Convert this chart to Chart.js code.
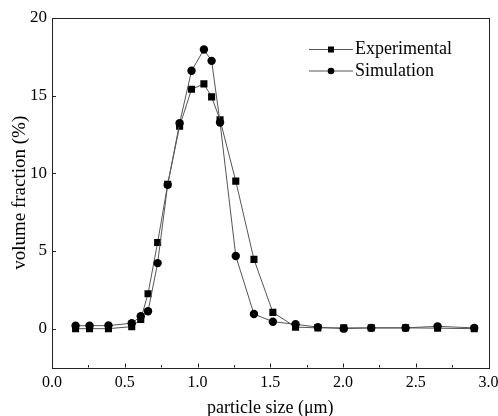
<!DOCTYPE html>
<html>
<head>
<meta charset="utf-8">
<script src="https://cdn.jsdelivr.net/npm/chart.js@4/dist/chart.umd.min.js"></script>
<style>
  html, body { margin: 0; padding: 0; background: #fff; }
  #wrap { width: 498px; height: 416px; position: relative; }
</style>
</head>
<body>
<div id="wrap"><canvas id="c"></canvas></div>
<script>
// Particle size bins (µm)
const sizes = [0.162, 0.258, 0.388, 0.548, 0.610, 0.660, 0.726, 0.795, 0.877, 0.959, 1.044, 1.097,
               1.155, 1.263, 1.388, 1.518, 1.674, 1.827, 2.005, 2.194, 2.430, 2.650, 2.902];
// Volume fraction (%) per bin
const experimental = [0.0, 0.0, 0.0, 0.13, 0.6, 2.25, 5.55, 9.3, 13.03, 15.41, 15.76, 14.92,
                      13.44, 9.5, 4.46, 1.05, 0.1, 0.05, 0.05, 0.05, 0.05, 0.03, 0.0];
const simulation = [0.19, 0.19, 0.2, 0.35, 0.8, 1.12, 4.22, 9.26, 13.23, 16.6, 17.97, 17.24,
                    13.27, 4.68, 0.94, 0.45, 0.28, 0.1, 0.0, 0.05, 0.05, 0.15, 0.05];
const seriesNames = ['Experimental', 'Simulation'];
const xTicks = [0.0, 0.5, 1.0, 1.5, 2.0, 2.5, 3.0];
const xMinorTicks = [0.25, 0.75, 1.25, 1.75, 2.25, 2.75];
const yTicks = [0, 5, 10, 15, 20];

const FONT = "'Liberation Serif', 'Times New Roman', serif";

const pts = vals => sizes.map((x, i) => ({ x: x, y: vals[i] }));

// Frame, inward ticks and the line+marker legend
const decorations = {
  id: 'decorations',
  afterDraw(chart) {
    const ctx = chart.ctx;
    const a = chart.chartArea;
    const xs = chart.scales.x, ys = chart.scales.y;
    ctx.save();
    ctx.strokeStyle = '#222';
    ctx.lineWidth = 1;
    ctx.strokeRect(Math.round(a.left) + 0.5, Math.round(a.top) + 0.5,
                   Math.round(a.right - a.left), Math.round(a.bottom - a.top));
    ctx.beginPath();
    xTicks.forEach(v => {
      const p = Math.round(xs.getPixelForValue(v)) + 0.5;
      ctx.moveTo(p, a.bottom); ctx.lineTo(p, a.bottom - 4);
    });
    xMinorTicks.forEach(v => {
      const p = Math.round(xs.getPixelForValue(v)) + 0.5;
      ctx.moveTo(p, a.bottom); ctx.lineTo(p, a.bottom - 2.5);
    });
    yTicks.forEach(v => {
      const p = Math.round(ys.getPixelForValue(v)) + 0.5;
      ctx.moveTo(a.left, p); ctx.lineTo(a.left + 4, p);
    });
    ctx.stroke();

    // legend
    const lx0 = 309, lx1 = 353, rows = [49.5, 71];
    chart.data.datasets.forEach((ds, i) => {
      const y = rows[i];
      ctx.strokeStyle = ds.borderColor;
      ctx.lineWidth = 1;
      ctx.beginPath();
      ctx.moveTo(lx0, y); ctx.lineTo(lx1, y);
      ctx.stroke();
      ctx.fillStyle = '#000';
      const cx = (lx0 + lx1) / 2;
      if (ds.pointStyle === 'rect') {
        ctx.fillRect(cx - 3, y - 3, 6, 6);
      } else {
        ctx.beginPath(); ctx.arc(cx, y, 3.3, 0, Math.PI * 2); ctx.fill();
      }
      ctx.font = '18px ' + FONT;
      ctx.textBaseline = 'middle';
      ctx.textAlign = 'left';
      ctx.fillText(ds.label, 355, y);
    });
    ctx.restore();
  }
};

new Chart(document.getElementById('c'), {
  type: 'scatter',
  data: {
    datasets: [
      {
        label: seriesNames[0], data: pts(experimental), showLine: true,
        borderColor: '#555', borderWidth: 1, pointStyle: 'rect',
        pointRadius: 5, pointBackgroundColor: '#000', pointBorderColor: '#000',
        pointBorderWidth: 0, order: 1
      },
      {
        label: seriesNames[1], data: pts(simulation), showLine: true,
        borderColor: '#555', borderWidth: 1, pointStyle: 'circle',
        pointRadius: 4.2, pointBackgroundColor: '#000', pointBorderColor: '#000',
        pointBorderWidth: 0, order: 0
      }
    ]
  },
  options: {
    responsive: true, maintainAspectRatio: false, animation: false,
    layout: { padding: { top: 18, right: 9.5, left: 0, bottom: 0 } },
    plugins: { legend: { display: false }, tooltip: { enabled: false } },
    scales: {
      x: {
        type: 'linear', min: 0, max: 3,
        afterBuildTicks: s => { s.ticks = xTicks.map(v => ({ value: v })); },
        afterFit: s => { s.height = 48.5; s.paddingLeft = 0; s.paddingRight = 0; },
        grid: { display: false, drawTicks: false },
        border: { display: false },
        ticks: { color: '#000', font: { family: FONT, size: 16 }, padding: 6,
                 maxRotation: 0, autoSkip: false, callback: v => Number(v).toFixed(1) },
        title: { display: true, text: 'particle size (μm)', color: '#000',
                 font: { family: FONT, size: 18 }, padding: { top: 0, bottom: -3 } }
      },
      y: {
        type: 'linear', min: -2.5, max: 20,
        afterBuildTicks: s => { s.ticks = yTicks.map(v => ({ value: v })); },
        afterFit: s => { s.width = 52; s.paddingTop = 0; s.paddingBottom = 0; },
        grid: { display: false, drawTicks: false },
        border: { display: false },
        ticks: { color: '#000', font: { family: FONT, size: 17 }, padding: 5,
                 autoSkip: false, callback: v => String(v) },
        title: { display: true, text: 'volume fraction (%)', color: '#000',
                 font: { family: FONT, size: 19 }, padding: { top: 9, bottom: 0 } }
      }
    }
  },
  plugins: [decorations]
});
</script>
</body>
</html>
